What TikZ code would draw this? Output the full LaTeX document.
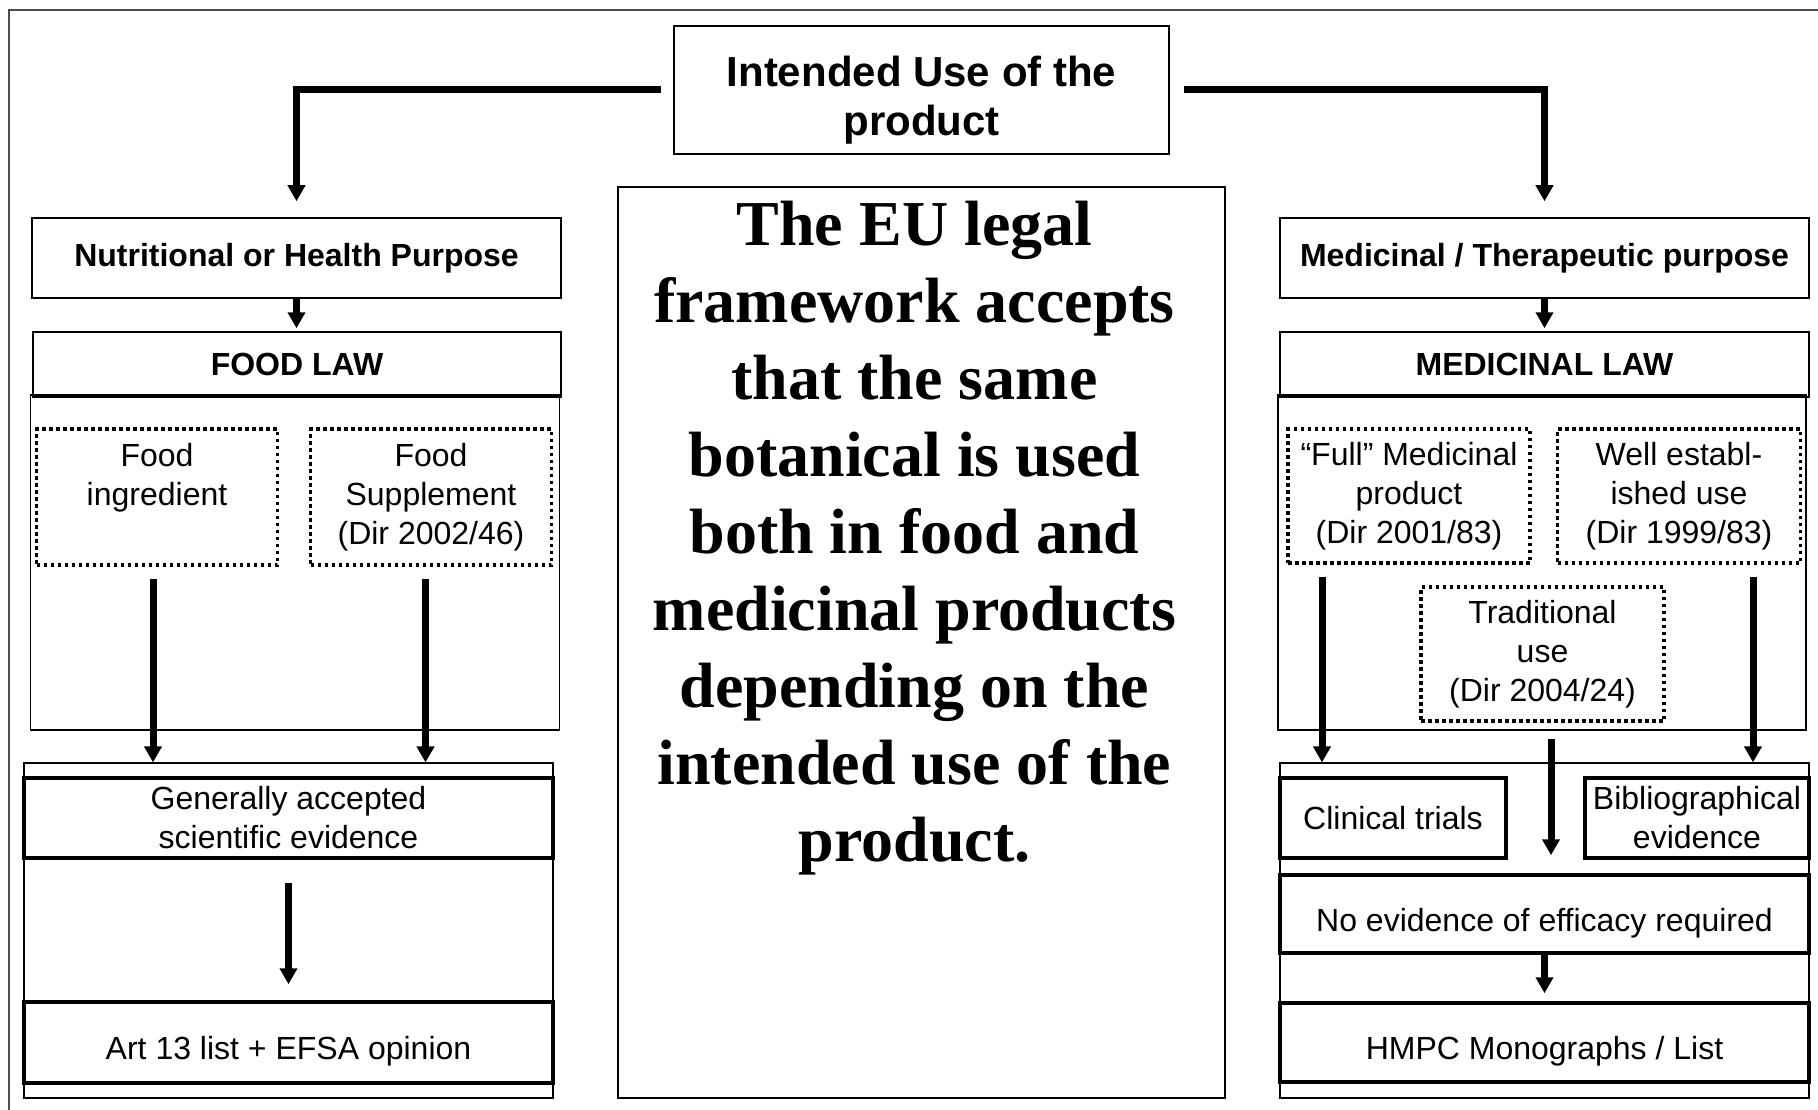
\documentclass[tikz,border=0pt]{standalone}
\usepackage{fontspec}
\setmainfont{Liberation Sans}
\newfontfamily\claimfont{Liberation Serif}
\usetikzlibrary{arrows.meta}

\tikzset{
  boxsize/.style 2 args={minimum width=#1pt, minimum height=#2pt},
  plainbox/.style={draw, line width=1.5pt, inner sep=0pt, align=center,
    font=\fontsize{32}{39}\selectfont},
  headbox/.style={plainbox, font=\fontsize{32}{39}\selectfont\bfseries},
  thickbox/.style={plainbox, line width=3.5pt},
  lowtext/.style={text height=41pt, text depth=7pt},
  dotbox/.style={plainbox, line width=3.5pt, dash pattern=on 3.5pt off 3.5pt},
  areabox/.style={draw, line width=1.2pt, inner sep=0pt},
  flow/.style={line width=7pt, -{Triangle[width=17pt,length=16pt]}},
}

\begin{document}
\begin{tikzpicture}[x=1pt,y=-1pt]
	\useasboundingbox (0,0) rectangle (1818,1110);
	\draw[line width=1.5pt, black!70] (9,1110) |- (1818,10);

	% Top and middle.
	\node[plainbox, boxsize={495}{128}] (intended) at (921.5,90) {};
	\node[align=center, inner sep=0pt, font=\fontsize{42}{49}\selectfont\bfseries]
		(intendedtext) at ([yshift=-10pt]intended.center) {Intended Use of the\\product};
	\node[areabox, boxsize={607}{911}] (euframe) at (921.5,642.5) {};
	\node[anchor=north, inner sep=0pt, align=center,
		font=\claimfont\bfseries\fontsize{64}{77}\selectfont]
		(eutext) at ([xshift=-7pt,yshift=-14pt]euframe.north)
		{The EU legal\\framework accepts\\that the same\\botanical is used\\both in food and\\medicinal products\\depending on the\\intended use of the\\product.};

	% Left (food) side.
	\node[headbox, boxsize={529}{80}] (nutri) at (296.5,258) {Nutritional or Health Purpose};
	\node[areabox, boxsize={529.5}{335}] (foodarea) at (295,562.5) {};
	\node[headbox, boxsize={528}{65}] (foodlaw) at (297,364.5) {FOOD LAW};
	\node[dotbox, boxsize={241}{136}] (foodingr) at (157,497) {Food\\ingredient\\\phantom{(}};
	\node[dotbox, boxsize={241}{136}] (foodsupp) at (431,497) {Food\\Supplement\\(Dir 2002/46)};
	\node[areabox, boxsize={529}{335}] (foodevid) at (288.5,930.5) {};
	\node[thickbox, boxsize={529}{80}] (generally) at (288.5,818) {Generally accepted\\scientific evidence};
	\node[thickbox, lowtext, boxsize={529}{81}] (art13) at (288.5,1042.5) {Art 13 list + EFSA opinion};

	% Right (medicinal) side.
	\node[headbox, boxsize={529}{80}] (medic) at (1544.5,258) {Medicinal / Therapeutic purpose};
	\node[areabox, boxsize={528}{335}] (medarea) at (1542,562.5) {};
	\node[headbox, boxsize={529}{65}] (medlaw) at (1544.5,364.5) {MEDICINAL LAW};
	\node[dotbox, boxsize={242}{134}] (fullmed) at (1409,496) {“Full” Medicinal\\product\\(Dir 2001/83)};
	\node[dotbox, boxsize={243}{134}] (wellest) at (1679,496) {Well establ-\\ished use\\(Dir 1999/83)};
	\node[dotbox, boxsize={243}{134}] (tradit) at (1542.5,654) {Traditional\\use\\(Dir 2004/24)};
	\node[areabox, boxsize={529}{335}] (medevid) at (1544.5,930.5) {};
	\node[thickbox, boxsize={226}{80}] (clinical) at (1393,818) {Clinical trials};
	\node[thickbox, boxsize={224}{80}] (biblio) at (1697,818) {Bibliographical\\evidence};
	\node[thickbox, lowtext, boxsize={529}{78}] (noevid) at (1544.5,914) {No evidence of efficacy required};
	\node[thickbox, lowtext, boxsize={529}{79}] (hmpc) at (1544.5,1042.5) {HMPC Monographs / List};

	% Arrows.
	\draw[flow, shorten >=16pt] ([xshift=-12pt]intended.west) -| (nutri.north);
	\draw[flow, shorten >=16pt] ([xshift=14pt]intended.east) -| (medic.north);
	\draw[flow, shorten >=3pt] (nutri.south) -- (nutri.south |- foodlaw.north);
	\draw[flow, shorten >=3pt] (medic.south) -- (medic.south |- medlaw.north);
	\draw[flow, shorten <=12pt] ([xshift=-4pt]foodingr.south) -- ([xshift=-4pt]foodingr.south |- foodevid.north);
	\draw[flow, shorten <=12pt] ([xshift=-5.5pt]foodsupp.south) -- ([xshift=-5.5pt]foodsupp.south |- foodevid.north);
	\draw[flow, shorten <=23pt, shorten >=16pt] (generally) -- (art13);
	\draw[flow, shorten <=12pt] ([xshift=-87pt]fullmed.south) -- ([xshift=-87pt]fullmed.south |- medevid.north);
	\draw[flow, shorten <=12pt] ([xshift=74pt]wellest.south) -- ([xshift=74pt]wellest.south |- medevid.north);
	\draw[flow, shorten <=16pt, shorten >=18pt] ([xshift=8.5pt]tradit.south) -- ([xshift=8.5pt]tradit.south |- noevid.north);
	\draw[flow, shorten >=8pt] (noevid.south) -- (noevid.south |- hmpc.north);

\end{tikzpicture}
\end{document}
